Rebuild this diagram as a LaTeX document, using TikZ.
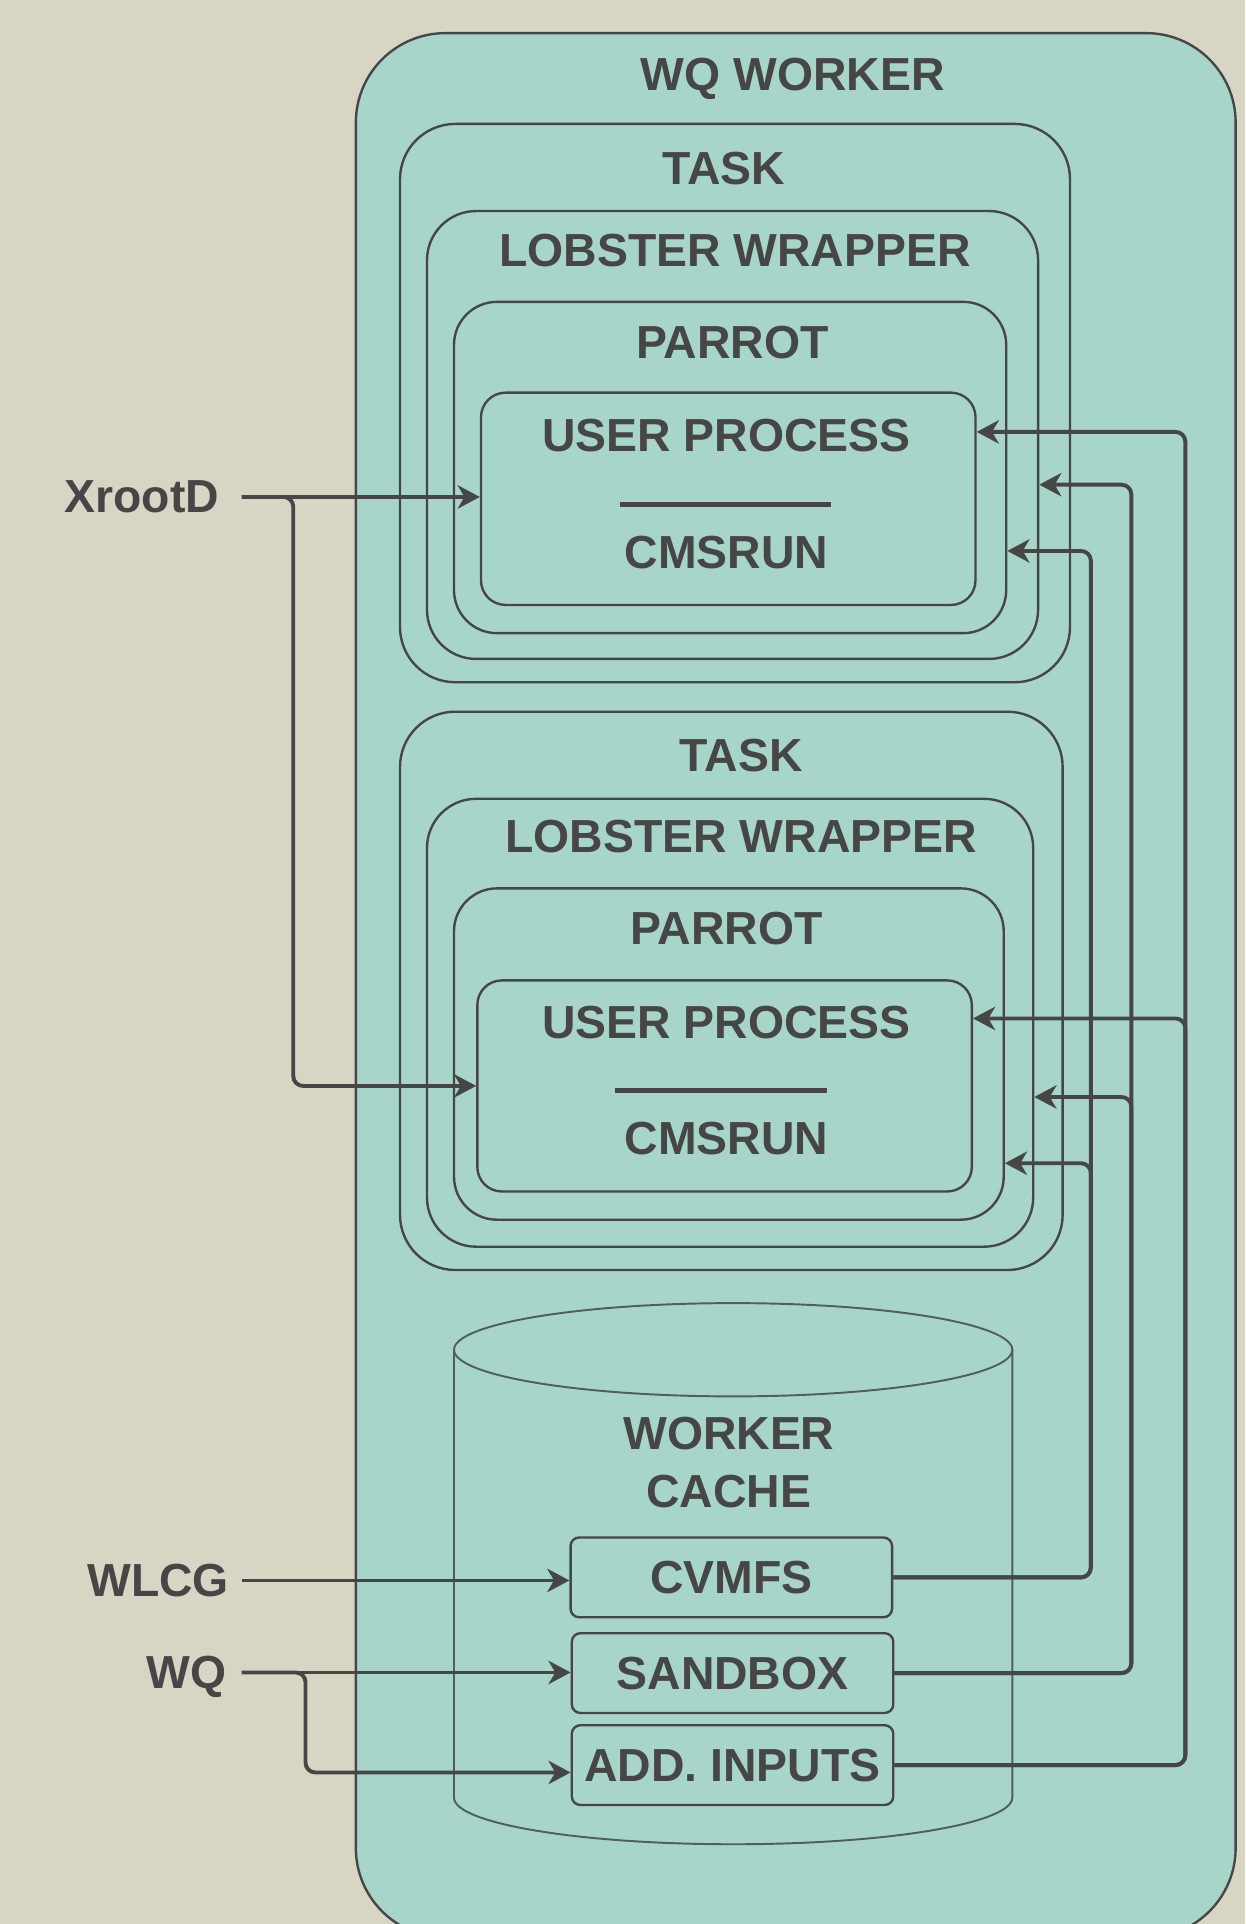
\documentclass[tikz,border=0pt]{standalone}
\usepackage{fontspec}
\setmainfont{Liberation Sans}
\usetikzlibrary{arrows.meta}
\definecolor{paper}{RGB}{217,213,196}
\definecolor{seafoam}{RGB}{167,213,202}
\definecolor{ink}{RGB}{70,70,70}
\definecolor{drum}{RGB}{82,94,90}
\tikzset{
    shell/.style={
           draw=ink, line width=1.1pt,
           fill=seafoam,
           inner sep=0pt,
           rounded corners=#1,
           },
    shell/.default=4mm,
    title/.style={
           text=ink,
           font=\fontsize{21.5}{26.6}\selectfont\bfseries,
           inner sep=0pt, align=center,
           },
    source/.style={
           title, anchor=east,
           inner xsep=#1, text depth=0pt,
           },
    cachebox/.style={
           shell=1.4mm, title,
           minimum width=52.4mm, minimum height=13mm,
           },
    wire/.style={
           draw=ink, line width=1.8pt,
           rounded corners=1.6mm,
           -{Stealth[length=3.6mm, width=3.8mm, inset=1.1mm]},
           },
}

\begin{document}
\begin{tikzpicture}[x=0.2mm, y=-0.2mm]
\fill[paper] (0,0) rectangle (1015,1568);
\useasboundingbox (0,0) rectangle (1015,1568);
\clip (0,0) rectangle (1015,1568);

% worker and the two tasks
\node[shell=14.6mm, minimum width=143.4mm, minimum height=310.4mm] (worker) at (648.5,803) {};

\node[shell=9mm, minimum width=109.2mm, minimum height=91mm] (taskA) at (599,328.5) {};
\node[shell=8mm, minimum width=99.6mm, minimum height=73mm] (lobA) at (597,354.5) {};
\node[shell=7mm, minimum width=90mm, minimum height=54mm] (parA) at (595,381) {};
\node[shell=4mm, minimum width=80.6mm, minimum height=34.6mm] (userA) at (593.5,406.5) {};
\draw[ink, line width=2.3pt] (505,411) -- (677,411);

\node[shell=9mm, minimum width=108mm, minimum height=91mm] (taskB) at (596,807.5) {};
\node[shell=8mm, minimum width=98.8mm, minimum height=73mm] (lobB) at (595,833.5) {};
\node[shell=7mm, minimum width=89.6mm, minimum height=54mm] (parB) at (594,859) {};
\node[shell=4mm, minimum width=80.6mm, minimum height=34.4mm] (userB) at (590.5,885) {};
\draw[ink, line width=2.3pt] (501,889) -- (674,889);

% cache drum
\fill[seafoam] (370,1100) -- (370,1465) arc[start angle=180, end angle=360, x radius=45.5mm, y radius=7.6mm] -- (825,1100) -- cycle;
\draw[drum, line width=0.9pt] (370,1100) -- (370,1465) arc[start angle=180, end angle=360, x radius=45.5mm, y radius=7.6mm] -- (825,1100);
\filldraw[fill=seafoam, draw=drum, line width=0.9pt] (597.5,1100) ellipse[x radius=45.5mm, y radius=7.6mm];

\node[cachebox] (cvmfs) at (596,1285.5) {CVMFS};
\node[cachebox] (sandbox) at (597,1363.5) {SANDBOX};
\node[cachebox] (addin) at (597,1438.5) {ADD. INPUTS};

% titles
\node[title] (workert) at (646,64) {WQ WORKER};
\node[title] (taskAt) at (590,137) {TASK};
\node[title] (lobAt) at (599,204) {LOBSTER WRAPPER};
\node[title] (parAt) at (597,279) {PARROT};
\node[title] (userAt) at (592,355) {USER PROCESS};
\node[title] (cmsAt) at (592,450) {CMSRUN};
\node[title] (taskBt) at (604,616) {TASK};
\node[title] (lobBt) at (604,682) {LOBSTER WRAPPER};
\node[title] (parBt) at (592,757) {PARROT};
\node[title] (userBt) at (592,833) {USER PROCESS};
\node[title] (cmsBt) at (592,928) {CMSRUN};
\node[title] (cachet) at (594,1192) {WORKER\\CACHE};

% outside sources
\node[source=3.6mm] (xrootd) at (197,405) {XrootD};
\node[source=2mm] (wlcg) at (197,1288) {WLCG};
\node[source=2.4mm] (wq) at (197,1363) {WQ};

\coordinate (xsplit) at (239,0);
\coordinate (wqsplit) at (249,0);
\coordinate (cvA) at (889,449);
\coordinate (cvB) at (889,948);
\coordinate (sbA) at (922,395);
\coordinate (sbB) at (922,894);
\coordinate (adA) at (966,352);
\coordinate (adB) at (966,830);

\draw[wire] (xrootd.east) -- (xrootd.east -| userA.west);
\draw[wire] (xrootd.east) -- (xrootd.east -| xsplit) |- (userB.west);
\draw[wire] (wlcg.east) -- (wlcg.east -| cvmfs.west);
\draw[wire] (wq.east) -- (wq.east -| sandbox.west);
\draw[wire] (wq.east) -- (wq.east -| wqsplit) |- ([yshift=-1.2mm]addin.west);

\draw[wire] (cvmfs.east) -| (cvA) -- (cvA -| parA.east);
\draw[wire] (cvmfs.east) -| (cvB) -- (cvB -| parB.east);
\draw[wire] (sandbox.east) -| (sbA) -- (sbA -| lobA.east);
\draw[wire] (sandbox.east) -| (sbB) -- (sbB -| lobB.east);
\draw[wire] (addin.east) -| (adA) -- (adA -| userA.east);
\draw[wire] (addin.east) -| (adB) -- (adB -| userB.east);
\end{tikzpicture}
\end{document}
